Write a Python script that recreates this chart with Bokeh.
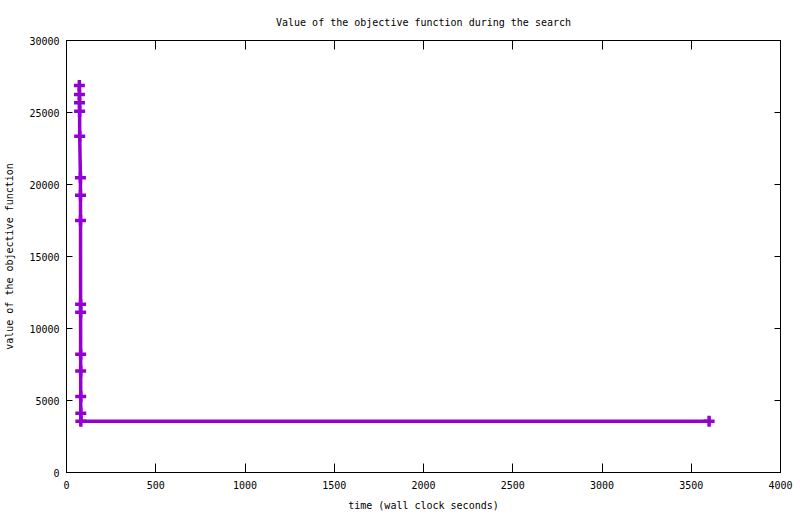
from bokeh.plotting import figure
from bokeh.models import Range1d, LinearAxis, SingleIntervalTicker, ColumnDataSource, CustomJSTickFormatter
from bokeh.embed import file_html
from bokeh.resources import INLINE

# data
time_s = [72, 72.5, 73, 73.5, 74, 78, 78.3, 78.6, 78.9, 79.1, 79.3, 79.5, 79.7, 80, 80.2, 3600]
objective = [26880, 26250, 25670, 25090, 23350, 20470, 19260, 17500,
             11690, 11130, 8220, 7040, 5280, 4120, 3560, 3560]

title_text = "Value of the objective function during the search"
x_label = "time (wall clock seconds)"
y_label = "value of the objective function"

FONT = "DejaVu Sans Mono"
COLOR = "#9400D3"

src = ColumnDataSource(dict(t=time_s, v=objective))

p = figure(frame_width=714, frame_height=432, output_backend="svg", toolbar_location=None,
           x_range=Range1d(0, 4000), y_range=Range1d(0, 30000),
           min_border_left=66, min_border_right=20, min_border_top=40, min_border_bottom=42,
           title=title_text)
p.title.align = "center"
p.title.text_font = FONT
p.title.text_font_size = "10px"
p.title.text_font_style = "normal"
p.title.text_color = "black"
p.title.standoff = 25
p.title.text_line_height = 0.5

p.xgrid.visible = False
p.ygrid.visible = False
p.outline_line_color = "black"
p.outline_line_width = 1
p.background_fill_color = "white"
p.border_fill_color = "white"

xt = SingleIntervalTicker(interval=500, num_minor_ticks=0)
yt = SingleIntervalTicker(interval=5000, num_minor_ticks=0)

def style(ax, tick_in):
    ax.axis_line_color = "black"
    ax.major_tick_line_color = "black"
    ax.major_tick_in = tick_in
    ax.major_tick_out = 0
    ax.minor_tick_line_color = None
    ax.major_label_text_font = FONT
    ax.major_label_text_font_size = "10px"
    ax.major_label_text_color = "black"
    ax.axis_label_text_font = FONT
    ax.axis_label_text_font_size = "10px"
    ax.axis_label_text_font_style = "normal"
    ax.axis_label_text_color = "black"

xa = p.xaxis[0]
xa.ticker = xt
style(xa, 9)
xa.major_label_standoff = 8
xa.axis_label = x_label
xa.axis_label_standoff = 8

ya = p.yaxis[0]
ya.ticker = yt
style(ya, 6)
ya.major_label_standoff = 7
ya.axis_label = y_label
ya.axis_label_standoff = 11

blank = CustomJSTickFormatter(code="return '';")

top = LinearAxis(ticker=xt, formatter=blank)
style(top, 9)
top.major_label_standoff = 0
p.add_layout(top, "above")

right = LinearAxis(ticker=yt, formatter=blank)
style(right, 6)
right.major_label_standoff = 0
p.add_layout(right, "right")

p.line("t", "v", source=src, line_color=COLOR, line_width=3.5)
p.scatter("t", "v", source=src, marker="cross", size=11, line_color=COLOR, line_width=3.5)

open("out.html", "w").write(file_html(p, INLINE))
